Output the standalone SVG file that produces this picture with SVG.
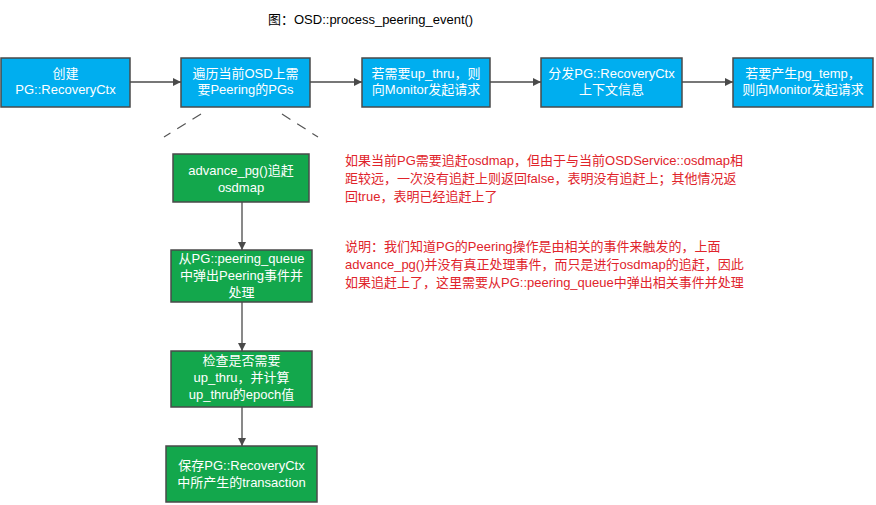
<svg xmlns="http://www.w3.org/2000/svg" width="876" height="505" viewBox="0 0 876 505">
<defs>
<style>
.t{font-family:"Liberation Sans","Noto Sans CJK SC",sans-serif;font-size:13px}
.bw{fill:#ffffff;text-anchor:middle}
.blue{fill:#00AEEF;stroke:#4a4a4a;stroke-width:1.5}
.green{fill:#13A74C;stroke:#4a4a4a;stroke-width:1.5}
.red{fill:#E0242B}
.c{stroke:#4a4a4a;stroke-width:1.3;fill:none}
.d{stroke:#555555;stroke-width:1.2;fill:none;stroke-dasharray:10 8}
</style>
<marker id="ah" viewBox="0 0 10 10" refX="10" refY="5" markerWidth="8" markerHeight="8" markerUnits="userSpaceOnUse" orient="auto">
<path d="M0,0 L10,5 L0,10 Z" fill="#4a4a4a"/>
</marker>
</defs>
<rect width="876" height="505" fill="#ffffff"/>
<text class="t" x="268" y="24" fill="#000000">图：OSD::process_peering_event()</text>

<g id="connectors">
<line class="c" x1="130" y1="82" x2="181" y2="82" marker-end="url(#ah)"/>
<line class="c" x1="310" y1="82" x2="362" y2="82" marker-end="url(#ah)"/>
<line class="c" x1="490" y1="82" x2="541" y2="82" marker-end="url(#ah)"/>
<line class="c" x1="682" y1="82" x2="733" y2="82" marker-end="url(#ah)"/>
<line class="c" x1="242" y1="202" x2="242" y2="250" marker-end="url(#ah)"/>
<line class="c" x1="242" y1="302" x2="242" y2="351" marker-end="url(#ah)"/>
<line class="c" x1="242" y1="407" x2="242" y2="446" marker-end="url(#ah)"/>
<line class="d" x1="201" y1="114" x2="164" y2="137"/>
<line class="d" x1="282" y1="114" x2="318" y2="137"/>
</g>

<g id="n1">
<rect class="blue" x="1" y="58" width="129" height="49"/>
<text class="t bw" x="65.5" y="78">创建</text>
<text class="t bw" x="65.5" y="94">PG::RecoveryCtx</text>
</g>
<g id="n2">
<rect class="blue" x="181" y="58" width="129" height="49"/>
<text class="t bw" x="245.5" y="78">遍历当前OSD上需</text>
<text class="t bw" x="245.5" y="94">要Peering的PGs</text>
</g>
<g id="n3">
<rect class="blue" x="362" y="58" width="128" height="49"/>
<text class="t bw" x="426" y="78">若需要up_thru，则</text>
<text class="t bw" x="426" y="94">向Monitor发起请求</text>
</g>
<g id="n4">
<rect class="blue" x="541" y="58" width="141" height="49"/>
<text class="t bw" x="611.5" y="78">分发PG::RecoveryCtx</text>
<text class="t bw" x="611.5" y="94">上下文信息</text>
</g>
<g id="n5">
<rect class="blue" x="733" y="58" width="140" height="49"/>
<text class="t bw" x="803" y="78">若要产生pg_temp，</text>
<text class="t bw" x="803" y="94">则向Monitor发起请求</text>
</g>

<g id="g1">
<rect class="green" x="173" y="154" width="136" height="48"/>
<text class="t bw" x="241" y="175">advance_pg()追赶</text>
<text class="t bw" x="241" y="192">osdmap</text>
</g>
<g id="g2">
<rect class="green" x="171" y="250" width="141" height="52"/>
<text class="t bw" x="241.5" y="263">从PG::peering_queue</text>
<text class="t bw" x="241.5" y="280">中弹出Peering事件并</text>
<text class="t bw" x="241.5" y="297">处理</text>
</g>
<g id="g3">
<rect class="green" x="171" y="351" width="141" height="56"/>
<text class="t bw" x="241.5" y="365">检查是否需要</text>
<text class="t bw" x="241.5" y="382">up_thru，并计算</text>
<text class="t bw" x="241.5" y="399">up_thru的epoch值</text>
</g>
<g id="g4">
<rect class="green" x="166" y="446" width="151" height="56"/>
<text class="t bw" x="241.5" y="470">保存PG::RecoveryCtx</text>
<text class="t bw" x="241.5" y="487">中所产生的transaction</text>
</g>

<g id="notes">
<text class="t red" x="345" y="165">如果当前PG需要追赶osdmap，但由于与当前OSDService::osdmap相</text>
<text class="t red" x="345" y="183">距较远，一次没有追赶上则返回false，表明没有追赶上；其他情况返</text>
<text class="t red" x="345" y="201">回true，表明已经追赶上了</text>
<text class="t red" x="345" y="251">说明：我们知道PG的Peering操作是由相关的事件来触发的，上面</text>
<text class="t red" x="345" y="269">advance_pg()并没有真正处理事件，而只是进行osdmap的追赶，因此</text>
<text class="t red" x="345" y="287">如果追赶上了，这里需要从PG::peering_queue中弹出相关事件并处理</text>
</g>
</svg>
